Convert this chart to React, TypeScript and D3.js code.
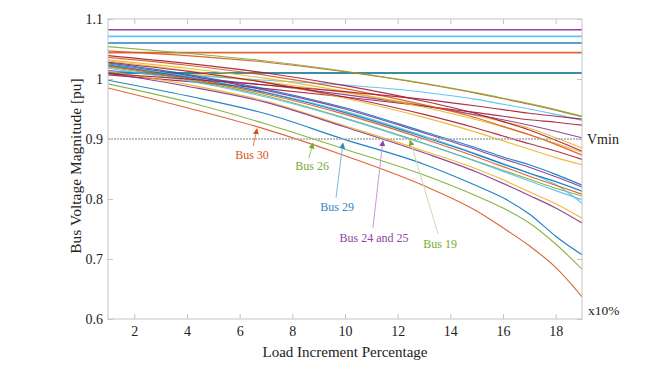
import React, { useEffect, useRef } from 'react'
import * as d3 from 'd3'

// load steps (x10%) at which the voltages were read
const loadSteps = [1, 4, 7, 10, 13, 15, 16, 17, 18, 19]
const xTicks = [2, 4, 6, 8, 10, 12, 14, 16, 18]
const yTicks = [0.6, 0.7, 0.8, 0.9, 1.0, 1.1]

// matlab default colour order, bus k uses colour (k - 1) % 7
const busColors = ['#0072BD', '#D95319', '#EDB120', '#7E2F8E', '#77AC30', '#4DBEEE', '#A2142F']

// generator buses keep a fixed voltage
const pvBuses = [1, 2, 5, 8, 11, 13]
const pvVoltage = [1.06, 1.044, 1.01, 1.01, 1.082, 1.071]

// load buses
const bus3 = [1.021, 1.009, 0.995, 0.977, 0.956, 0.939, 0.929, 0.918, 0.902, 0.885]
const bus4 = [1.014, 1.003, 0.99, 0.974, 0.955, 0.94, 0.932, 0.923, 0.913, 0.902]
const bus6 = [1.013, 1.006, 0.998, 0.99, 0.978, 0.966, 0.958, 0.95, 0.941, 0.931]
const bus7 = [1.007, 0.996, 0.984, 0.97, 0.955, 0.944, 0.938, 0.932, 0.928, 0.923]
const bus9 = [1.047, 1.039, 1.028, 1.012, 0.992, 0.976, 0.967, 0.958, 0.948, 0.937]
const bus10 = [1.032, 1.018, 1.001, 0.979, 0.953, 0.932, 0.92, 0.907, 0.893, 0.878]
const bus12 = [1.054, 1.043, 1.03, 1.013, 0.993, 0.977, 0.968, 0.959, 0.949, 0.938]
const bus14 = [1.039, 1.026, 1.01, 0.989, 0.963, 0.942, 0.929, 0.915, 0.898, 0.88]
const bus15 = [1.027, 1.008, 0.983, 0.952, 0.912, 0.885, 0.87, 0.857, 0.841, 0.823]
const bus16 = [1.036, 1.023, 1.006, 0.984, 0.957, 0.935, 0.921, 0.907, 0.891, 0.873]
const bus17 = [1.03, 1.014, 0.994, 0.968, 0.936, 0.911, 0.897, 0.883, 0.869, 0.857]
const bus18 = [1.025, 1.006, 0.981, 0.95, 0.91, 0.882, 0.867, 0.853, 0.837, 0.82]
const bus19 = [1.02, 0.999, 0.972, 0.935, 0.893, 0.863, 0.848, 0.833, 0.818, 0.805]
const bus20 = [1.024, 1.004, 0.978, 0.946, 0.905, 0.875, 0.859, 0.843, 0.824, 0.793]
const bus21 = [1.028, 1.013, 0.994, 0.97, 0.941, 0.918, 0.905, 0.892, 0.88, 0.866]
const bus22 = [1.023, 1.003, 0.977, 0.944, 0.903, 0.874, 0.858, 0.843, 0.829, 0.813]
const bus23 = [1.022, 1.001, 0.975, 0.941, 0.9, 0.87, 0.854, 0.838, 0.823, 0.808]
const bus24 = [1.013, 0.991, 0.963, 0.922, 0.88, 0.85, 0.832, 0.812, 0.792, 0.768]
const bus25 = [1.01, 0.988, 0.961, 0.92, 0.877, 0.845, 0.826, 0.806, 0.785, 0.76]
const bus26 = [0.992, 0.962, 0.925, 0.883, 0.84, 0.805, 0.785, 0.76, 0.725, 0.683]
const bus27 = [1.018, 0.997, 0.97, 0.934, 0.892, 0.862, 0.846, 0.83, 0.814, 0.799]
const bus28 = [1.009, 1.0, 0.99, 0.979, 0.966, 0.955, 0.949, 0.943, 0.938, 0.933]
const bus29 = [0.998, 0.972, 0.942, 0.899, 0.858, 0.822, 0.802, 0.775, 0.738, 0.707]
const bus30 = [0.985, 0.952, 0.916, 0.872, 0.822, 0.78, 0.752, 0.722, 0.686, 0.637]

const loadBuses: [number, number[]][] = [
  [3, bus3], [4, bus4], [6, bus6], [7, bus7], [9, bus9], [10, bus10], [12, bus12],
  [14, bus14], [15, bus15], [16, bus16], [17, bus17], [18, bus18], [19, bus19],
  [20, bus20], [21, bus21], [22, bus22], [23, bus23], [24, bus24], [25, bus25],
  [26, bus26], [27, bus27], [28, bus28], [29, bus29], [30, bus30],
]

const vMin = 0.9

// annotations (data coordinates)
const annoLabels = ['Bus 30', 'Bus 26', 'Bus 29', 'Bus 24 and 25', 'Bus 19']
const annoTextColors = ['#D95319', '#77AC30', '#2f86c8', '#8e44a0', '#77AC30']
const annoLineColors = ['#e0825a', '#9cc46a', '#7ab8e3', '#c59ad2', '#c8dcae']
const annoTip = [[6.66, 0.917], [8.78, 0.893], [9.92, 0.893], [11.44, 0.897], [12.47, 0.898]]
const annoTail = [[6.51, 0.888], [8.63, 0.868], [9.66, 0.802], [11.06, 0.752], [13.53, 0.742]]
const annoPos = [[6.47, 0.873], [8.75, 0.855], [9.7, 0.787], [11.1, 0.735], [13.61, 0.725]]

const font = '"Liberation Serif", "Times New Roman", serif'

export default function App() {
  const ref = useRef<SVGSVGElement>(null)

  useEffect(() => {
    const svg = d3.select(ref.current)
    svg.selectAll('*').remove()

    const x = d3.scaleLinear().domain([1, 19]).range([108, 582])
    const y = d3.scaleLinear().domain([0.6, 1.1]).range([319, 19])
    const axisColor = '#c4c4c4'

    svg.append('defs').append('clipPath').attr('id', 'plot')
      .append('rect')
      .attr('x', x(1)).attr('y', y(1.1))
      .attr('width', x(19) - x(1)).attr('height', y(0.6) - y(1.1))

    // every bus in number order, like matlab plots the columns
    const series: { bus: number; pts: [number, number][] }[] = []
    for (let bus = 1; bus <= 30; bus++) {
      const pv = pvBuses.indexOf(bus)
      if (pv >= 0) {
        series.push({ bus, pts: [[1, pvVoltage[pv]], [19, pvVoltage[pv]]] })
      } else {
        const lb = loadBuses.find(d => d[0] === bus)
        if (lb) series.push({ bus, pts: loadSteps.map((s, i) => [s, lb[1][i]] as [number, number]) })
      }
    }

    const line = d3.line<[number, number]>()
      .x(d => x(d[0]))
      .y(d => y(d[1]))
      .curve(d3.curveMonotoneX)

    svg.append('g').attr('clip-path', 'url(#plot)')
      .selectAll('path')
      .data(series)
      .enter()
      .append('path')
      .attr('d', d => line(d.pts))
      .attr('fill', 'none')
      .attr('stroke', d => busColors[(d.bus - 1) % 7])
      .attr('stroke-width', d => (pvBuses.includes(d.bus) ? 1.6 : 1.15))
      .attr('stroke-opacity', 0.88)

    // vmin limit
    svg.append('line')
      .attr('x1', x(1)).attr('x2', x(19))
      .attr('y1', y(vMin)).attr('y2', y(vMin))
      .attr('stroke', '#a8a8a8')
      .attr('stroke-width', 1.6)
      .attr('stroke-dasharray', '2,1')

    // box
    svg.append('rect')
      .attr('x', x(1)).attr('y', y(1.1))
      .attr('width', x(19) - x(1)).attr('height', y(0.6) - y(1.1))
      .attr('fill', 'none')
      .attr('stroke', axisColor)

    const styleAxis = (g: any) => {
      g.select('.domain').remove()
      g.selectAll('line').attr('stroke', axisColor)
      g.selectAll('text')
        .attr('fill', '#222')
        .style('font-family', font)
        .style('font-size', '14px')
    }

    svg.append('g')
      .attr('transform', `translate(0,${y(0.6)})`)
      .call(d3.axisBottom(x).tickValues(xTicks).tickSize(-5).tickPadding(7).tickFormat(d3.format('d')))
      .call(styleAxis)
    svg.append('g')
      .attr('transform', `translate(0,${y(1.1)})`)
      .call(d3.axisTop(x).tickValues(xTicks).tickSize(-5).tickFormat(() => ''))
      .call(styleAxis)
    svg.append('g')
      .attr('transform', `translate(${x(1)},0)`)
      .call(d3.axisLeft(y).tickValues(yTicks).tickSize(-5).tickPadding(5).tickFormat(d => d3.format('~g')(+(+d).toFixed(1))))
      .call(styleAxis)
    svg.append('g')
      .attr('transform', `translate(${x(19)},0)`)
      .call(d3.axisRight(y).tickValues(yTicks).tickSize(-5).tickFormat(() => ''))
      .call(styleAxis)

    // axis titles
    svg.append('text')
      .attr('x', (x(1) + x(19)) / 2).attr('y', 357)
      .attr('text-anchor', 'middle')
      .style('font-family', font).style('font-size', '15px').attr('fill', '#222')
      .text('Load Increment Percentage')
    svg.append('text')
      .attr('transform', `translate(81,${(y(0.6) + y(1.1)) / 2 - 3}) rotate(-90)`)
      .attr('text-anchor', 'middle')
      .style('font-family', font).style('font-size', '15.5px').attr('fill', '#222')
      .text('Bus Voltage Magnitude [pu]')

    svg.append('text')
      .attr('x', x(19) + 5).attr('y', y(vMin)).attr('dy', '0.35em')
      .style('font-family', font).style('font-size', '14px').attr('fill', '#222')
      .text('Vmin')
    svg.append('text')
      .attr('x', x(19) + 6).attr('y', y(0.615)).attr('dy', '0.35em')
      .style('font-family', font).style('font-size', '13.5px').attr('fill', '#222')
      .text('x10%')

    // arrows
    const defs = svg.select('defs')
    annoLabels.forEach((label, i) => {
      defs.append('marker')
        .attr('id', 'arr' + i)
        .attr('viewBox', '0 0 10 10')
        .attr('refX', 9).attr('refY', 5)
        .attr('markerWidth', 6).attr('markerHeight', 6)
        .attr('markerUnits', 'userSpaceOnUse')
        .attr('orient', 'auto')
        .append('path')
        .attr('d', 'M0,0 L10,5 L0,10 Z')
        .attr('fill', annoTextColors[i])

      svg.append('line')
        .attr('x1', x(annoTail[i][0])).attr('y1', y(annoTail[i][1]))
        .attr('x2', x(annoTip[i][0])).attr('y2', y(annoTip[i][1]))
        .attr('stroke', annoLineColors[i])
        .attr('stroke-width', 1)
        .attr('marker-end', `url(#arr${i})`)

      svg.append('text')
        .attr('x', x(annoPos[i][0])).attr('y', y(annoPos[i][1])).attr('dy', '0.35em')
        .attr('text-anchor', 'middle')
        .style('font-family', font).style('font-size', '12px')
        .attr('fill', annoTextColors[i])
        .text(label)
    })
  }, [])

  return (
    <svg
      ref={ref}
      width={666}
      height={375}
      style={{ position: 'absolute', left: 0, top: 0, background: '#fff' }}
    />
  )
}
